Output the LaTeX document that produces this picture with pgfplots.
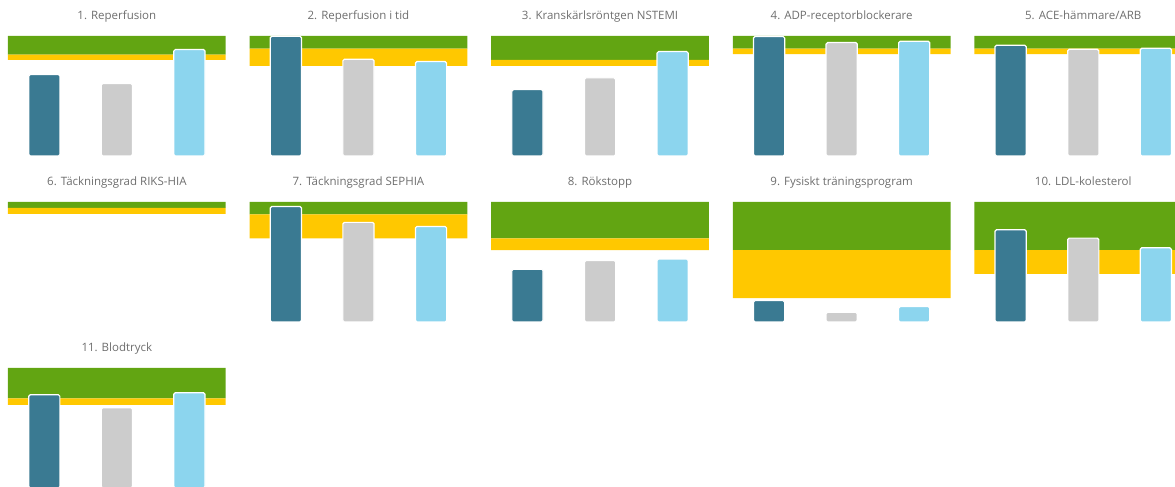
\documentclass[border=0pt]{standalone}
\usepackage{fontspec}
\setmainfont{Open Sans}
\usepackage{pgfplots}
\pgfplotsset{compat=1.18}
\definecolor{cgreen}{HTML}{62A512}
\definecolor{cyellow}{HTML}{FFC800}
\definecolor{cdark}{HTML}{3A7A92}
\definecolor{cgrey}{HTML}{CCCCCC}
\definecolor{clight}{HTML}{8CD5EE}
\definecolor{ctitle}{HTML}{6E6E6E}
\pgfplotsset{
  panel/.style={
    scale only axis, width=217.7pt, height=120pt,
    anchor=south west,
    xmin=-0.5, xmax=2.5, ymin=0, ymax=100,
    axis lines=none, ticks=none,
    title style={font=\fontsize{11.5}{13}\selectfont, text=ctitle, at={(0.5,1)}, anchor=base, yshift=10pt},
  },
  bandg/.style={fill=cgreen, draw=none, forget plot},
  bandy/.style={fill=cyellow, draw=none, forget plot},
  barb/.style={ybar, bar width=0.43, bar shift=0pt, draw=white, line width=1.2pt, rounded corners=1.5pt},
}
\begin{document}
\begin{tikzpicture}
% ---------- Row 1 ----------
\begin{axis}[panel, at={(8pt,331pt)}, title={1. Reperfusion}]
\addplot[bandg] coordinates {(-0.5,84.5) (2.5,84.5) (2.5,100) (-0.5,100) (-0.5,84.5)};
\addplot[bandy] coordinates {(-0.5,80.0) (2.5,80.0) (2.5,84.5) (-0.5,84.5) (-0.5,80.0)};
\addplot[barb, fill=cdark] coordinates {(0,67.9)};
\addplot[barb, fill=cgrey] coordinates {(1,60.4)};
\addplot[barb, fill=clight] coordinates {(2,88.7)};
\end{axis}
\begin{axis}[panel, at={(249.6pt,331pt)}, title={2. Reperfusion i tid}]
\addplot[bandg] coordinates {(-0.5,89.5) (2.5,89.5) (2.5,100) (-0.5,100) (-0.5,89.5)};
\addplot[bandy] coordinates {(-0.5,75.1) (2.5,75.1) (2.5,89.5) (-0.5,89.5) (-0.5,75.1)};
\addplot[barb, fill=cdark] coordinates {(0,99.8)};
\addplot[barb, fill=cgrey] coordinates {(1,80.6)};
\addplot[barb, fill=clight] coordinates {(2,78.7)};
\end{axis}
\begin{axis}[panel, at={(491.2pt,331pt)}, title={3. Kranskärlsröntgen NSTEMI}]
\addplot[bandg] coordinates {(-0.5,80.0) (2.5,80.0) (2.5,100) (-0.5,100) (-0.5,80.0)};
\addplot[bandy] coordinates {(-0.5,75.1) (2.5,75.1) (2.5,80.0) (-0.5,80.0) (-0.5,75.1)};
\addplot[barb, fill=cdark] coordinates {(0,55.4)};
\addplot[barb, fill=cgrey] coordinates {(1,65.1)};
\addplot[barb, fill=clight] coordinates {(2,87.0)};
\end{axis}
\begin{axis}[panel, at={(732.8pt,331pt)}, title={4. ADP-receptorblockerare}]
\addplot[bandg] coordinates {(-0.5,89.5) (2.5,89.5) (2.5,100) (-0.5,100) (-0.5,89.5)};
\addplot[bandy] coordinates {(-0.5,84.8) (2.5,84.8) (2.5,89.5) (-0.5,89.5) (-0.5,84.8)};
\addplot[barb, fill=cdark] coordinates {(0,99.5)};
\addplot[barb, fill=cgrey] coordinates {(1,94.5)};
\addplot[barb, fill=clight] coordinates {(2,95.6)};
\end{axis}
\begin{axis}[panel, at={(974.4pt,331pt)}, title={5. ACE-hämmare/ARB}]
\addplot[bandg] coordinates {(-0.5,89.5) (2.5,89.5) (2.5,100) (-0.5,100) (-0.5,89.5)};
\addplot[bandy] coordinates {(-0.5,84.8) (2.5,84.8) (2.5,89.5) (-0.5,89.5) (-0.5,84.8)};
\addplot[barb, fill=cdark] coordinates {(0,92.3)};
\addplot[barb, fill=cgrey] coordinates {(1,88.9)};
\addplot[barb, fill=clight] coordinates {(2,89.8)};
\end{axis}
% ---------- Row 2 ----------
\begin{axis}[panel, at={(8pt,165pt)}, title={6. Täckningsgrad RIKS-HIA}]
\addplot[bandg] coordinates {(-0.5,95.2) (2.5,95.2) (2.5,100) (-0.5,100) (-0.5,95.2)};
\addplot[bandy] coordinates {(-0.5,90.0) (2.5,90.0) (2.5,95.2) (-0.5,95.2) (-0.5,90.0)};
\end{axis}
\begin{axis}[panel, at={(249.6pt,165pt)}, title={7. Täckningsgrad SEPHIA}]
\addplot[bandg] coordinates {(-0.5,89.6) (2.5,89.6) (2.5,100) (-0.5,100) (-0.5,89.6)};
\addplot[bandy] coordinates {(-0.5,69.6) (2.5,69.6) (2.5,89.6) (-0.5,89.6) (-0.5,69.6)};
\addplot[barb, fill=cdark] coordinates {(0,96.3)};
\addplot[barb, fill=cgrey] coordinates {(1,83.0)};
\addplot[barb, fill=clight] coordinates {(2,79.6)};
\end{axis}
\begin{axis}[panel, at={(491.2pt,165pt)}, title={8. Rökstopp}]
\addplot[bandg] coordinates {(-0.5,69.6) (2.5,69.6) (2.5,100) (-0.5,100) (-0.5,69.6)};
\addplot[bandy] coordinates {(-0.5,59.9) (2.5,59.9) (2.5,69.6) (-0.5,69.6) (-0.5,59.9)};
\addplot[barb, fill=cdark] coordinates {(0,44.0)};
\addplot[barb, fill=cgrey] coordinates {(1,51.2)};
\addplot[barb, fill=clight] coordinates {(2,52.4)};
\end{axis}
\begin{axis}[panel, at={(732.8pt,165pt)}, title={9. Fysiskt träningsprogram}]
\addplot[bandg] coordinates {(-0.5,59.9) (2.5,59.9) (2.5,100) (-0.5,100) (-0.5,59.9)};
\addplot[bandy] coordinates {(-0.5,19.8) (2.5,19.8) (2.5,59.9) (-0.5,59.9) (-0.5,19.8)};
\addplot[barb, fill=cdark] coordinates {(0,17.8)};
\addplot[barb, fill=cgrey] coordinates {(1,8.1)};
\addplot[barb, fill=clight] coordinates {(2,12.8)};
\end{axis}
\begin{axis}[panel, at={(974.4pt,165pt)}, title={10. LDL-kolesterol}]
\addplot[bandg] coordinates {(-0.5,59.9) (2.5,59.9) (2.5,100) (-0.5,100) (-0.5,59.9)};
\addplot[bandy] coordinates {(-0.5,40.1) (2.5,40.1) (2.5,59.9) (-0.5,59.9) (-0.5,40.1)};
\addplot[barb, fill=cdark] coordinates {(0,76.9)};
\addplot[barb, fill=cgrey] coordinates {(1,69.9)};
\addplot[barb, fill=clight] coordinates {(2,61.8)};
\end{axis}
% ---------- Row 3 ----------
\begin{axis}[panel, at={(8pt,-1pt)}, title={11. Blodtryck}]
\addplot[bandg] coordinates {(-0.5,74.6) (2.5,74.6) (2.5,100) (-0.5,100) (-0.5,74.6)};
\addplot[bandy] coordinates {(-0.5,69.3) (2.5,69.3) (2.5,74.6) (-0.5,74.6) (-0.5,69.3)};
\addplot[barb, fill=cdark] coordinates {(0,77.7)};
\addplot[barb, fill=cgrey] coordinates {(1,66.8)};
\addplot[barb, fill=clight] coordinates {(2,79.4)};
\end{axis}
\pgfresetboundingbox
\path[use as bounding box] (0pt,0pt) rectangle (1175pt,487pt);
\end{tikzpicture}
\end{document}
